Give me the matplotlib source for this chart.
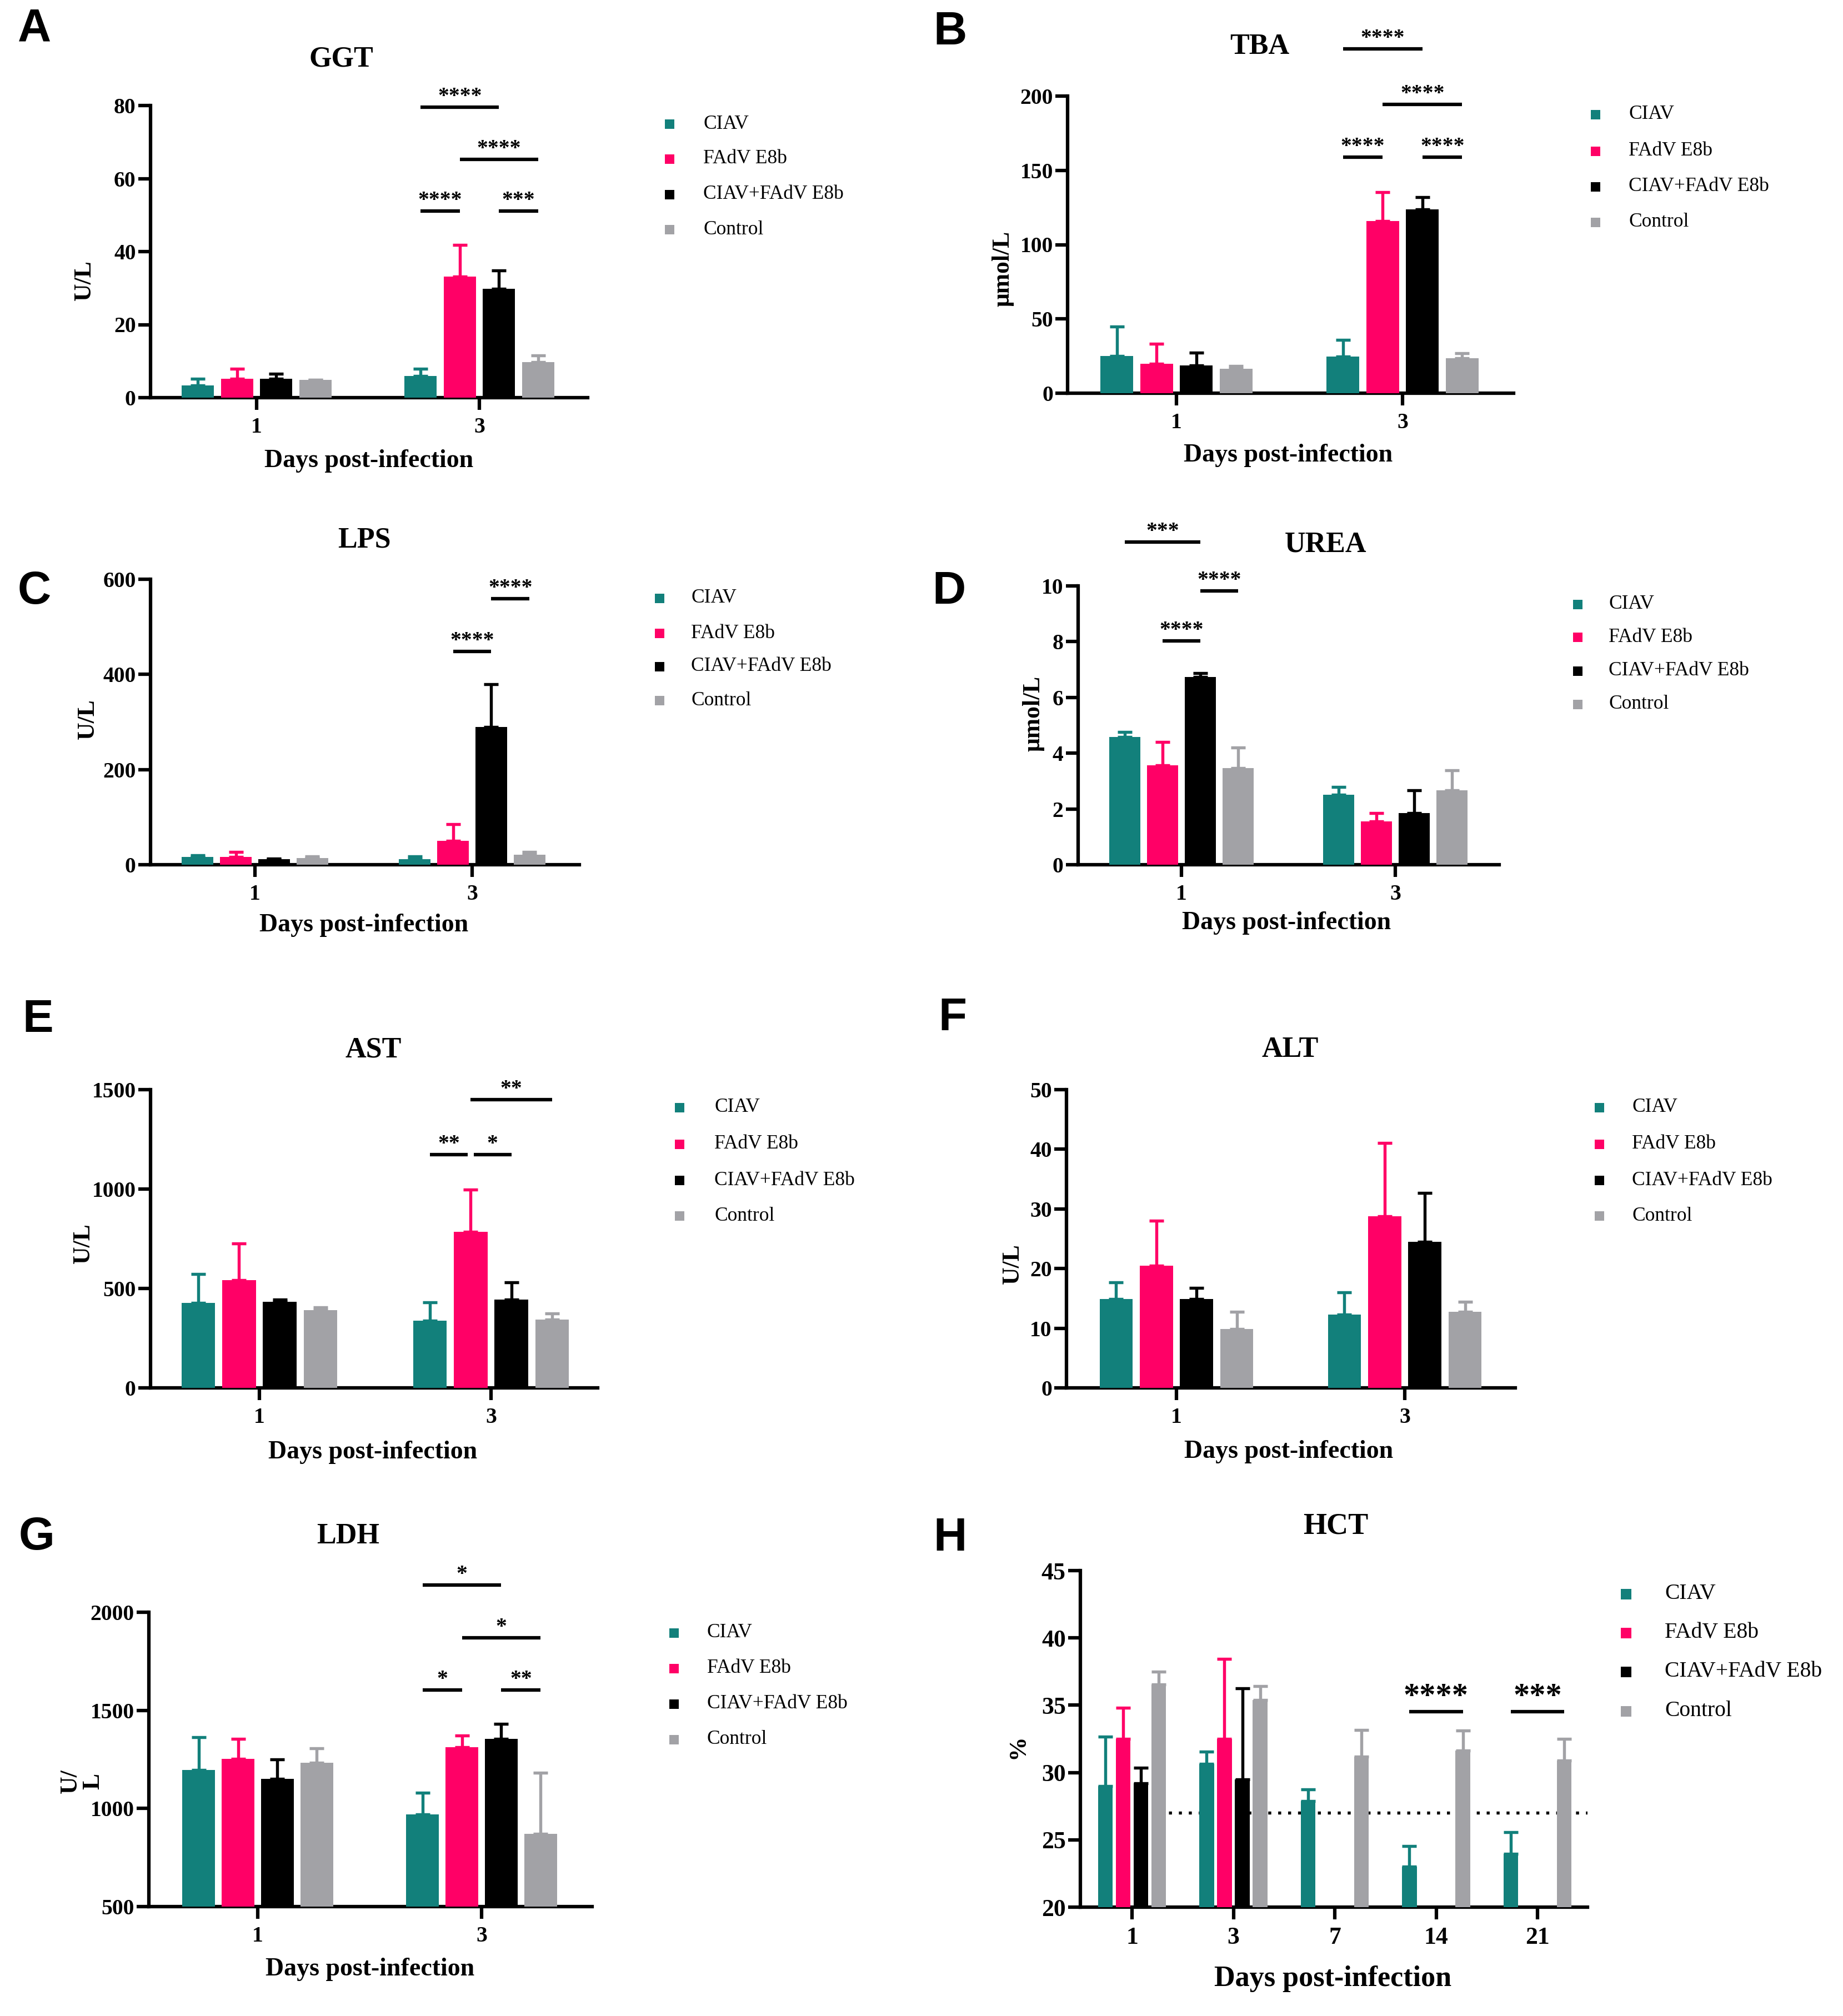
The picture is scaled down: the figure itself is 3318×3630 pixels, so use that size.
import matplotlib
matplotlib.use('Agg')
import matplotlib.pyplot as plt
from matplotlib.patches import Rectangle
import numpy as np

W, H = 3318, 3630
DPI = 300
plt.rcParams['font.family'] = ['Liberation Serif', 'DejaVu Serif']
plt.rcParams['font.weight'] = 'bold'

# ---------------- data ----------------
groups = ['CIAV', 'FAdV E8b', 'CIAV+FAdV E8b', 'Control']
colors = ['#12807b', '#ff0066', '#000000', '#a2a2a6']

days_short = ['1', '3']
days_hct = ['1', '3', '7', '14', '21']

# means[group][day], sd (upper error)
ggt_mean = [[3.4, 6.0], [5.2, 33.1], [5.2, 29.8], [4.8, 9.8]]
ggt_sd = [[1.8, 1.9], [2.7, 8.7], [1.3, 5.1], [0.1, 1.7]]

tba_mean = [[25.0, 24.6], [19.8, 115.9], [18.8, 123.8], [16.3, 23.6]]
tba_sd = [[19.9, 11.3], [13.6, 19.4], [8.5, 8.1], [2.1, 3.5]]

lps_mean = [[16.4, 12.0], [16.4, 50.0], [12.0, 290.0], [14.0, 21.0]]
lps_sd = [[3.0, 5.0], [10.6, 35.0], [1.0, 89.0], [3.0, 6.0]]

urea_mean = [[4.58, 2.51], [3.57, 1.55], [6.74, 1.86], [3.46, 2.66]]
urea_sd = [[0.18, 0.28], [0.83, 0.31], [0.14, 0.80], [0.75, 0.72]]

ast_mean = [[426, 339], [542, 784], [434, 445], [391, 344]]
ast_sd = [[148, 92], [183, 212], [11, 85], [15, 31]]

alt_mean = [[14.9, 12.3], [20.5, 28.8], [14.9, 24.5], [9.9, 12.8]]
alt_sd = [[2.8, 3.7], [7.5, 12.3], [1.9, 8.2], [2.9, 1.6]]

ldh_mean = [[1197, 970], [1253, 1312], [1150, 1355], [1233, 872]]
ldh_sd = [[166, 110], [102, 60], [100, 75], [75, 311]]

nan = np.nan
hct_mean = [[29.0, 30.66, 27.9, 23.0, 23.97],
            [32.5, 32.5, nan, nan, nan],
            [29.2, 29.5, nan, nan, nan],
            [36.55, 35.38, 31.2, 31.64, 30.9]]
hct_sd = [[3.66, 0.9, 0.86, 1.55, 1.58],
          [2.3, 5.95, nan, nan, nan],
          [1.15, 6.74, nan, nan, nan],
          [0.95, 1.05, 1.95, 1.46, 1.6]]
hct_reference = 27.0

# significance: (day index, group i, group j, level, label)
ggt_sig = [(1, 0, 2, 79.6, '****'), (1, 1, 3, 65.3, '****'),
           (1, 0, 1, 51.1, '****'), (1, 2, 3, 51.1, '***')]
tba_sig = [(1, 0, 2, 231.7, '****'), (1, 1, 3, 194.4, '****'),
           (1, 0, 1, 158.7, '****'), (1, 2, 3, 158.7, '****')]
lps_sig = [(1, 1, 2, 448.5, '****'), (1, 2, 3, 559.0, '****')]
urea_sig = [(0, 0, 2, 11.58, '***'), (0, 2, 3, 9.82, '****'), (0, 1, 2, 8.03, '****')]
ast_sig = [(1, 1, 3, 1449, '**'), (1, 0, 1, 1174, '**'), (1, 1, 2, 1174, '*')]
alt_sig = []
ldh_sig = [(1, 0, 2, 2138, '*'), (1, 1, 3, 1870, '*'),
           (1, 0, 1, 1605, '*'), (1, 2, 3, 1605, '**')]
hct_sig = [(3, 0, 3, 34.53, '****'), (4, 0, 3, 34.53, '***')]

# ---------------- layout ----------------
BARW = 0.145
SP = 0.176
GAP = 0.026

fig = plt.figure(figsize=(W / DPI, H / DPI), dpi=DPI)


def fx(x):
    return x / W


def fy(y):
    return 1 - y / H


def panel(means, sds, days, ylim, ystep, sig, title, ylabel, letter,
          rect, day_px, title_xy, ylabel_xy, xlabel_xy, letter_xy,
          leg_mx, leg_tx, leg_rows, big=False, ref=None):
    L, T, R, B = rect
    ax = fig.add_axes([fx(L), fy(B), (R - L) / W, (B - T) / H])
    d0, d1 = day_px
    ax.set_xlim((L - d0) / (d1 - d0), (R - d0) / (d1 - d0))
    ax.set_ylim(*ylim)
    ax.set_yticks(np.arange(ylim[0], ylim[1] + ystep * 0.5, ystep))
    n = len(days)
    xs = np.arange(n)
    ax.set_xticks(xs)
    ax.set_xticklabels(days)
    for s in ['top', 'right']:
        ax.spines[s].set_visible(False)
    for s in ['left', 'bottom']:
        ax.spines[s].set_linewidth(1.5)
    tfs = 10.5 if big else 9.5
    ax.tick_params(axis='y', direction='out', length=5.3, width=1.5,
                   labelsize=tfs, pad=1)
    ax.tick_params(axis='x', direction='out', length=5.3, width=1.5,
                   labelsize=tfs, pad=3)
    ax.patch.set_alpha(0)

    for i in range(4):
        m = np.array(means[i], float)
        e = np.array(sds[i], float)
        pos = xs + (i - 1.5) * SP
        ok = ~np.isnan(m)
        ax.bar(pos[ok], m[ok], width=BARW, color=colors[i], zorder=3)
        ax.errorbar(pos[ok], m[ok], yerr=[np.zeros(ok.sum()), e[ok]], fmt='none',
                    ecolor=colors[i], elinewidth=1.3, capsize=3.2, capthick=1.3,
                    zorder=2.5)

    if ref is not None:
        ax.plot([0.36, ax.get_xlim()[1]], [ref, ref], color='black', lw=1.3,
                ls=(0, (1, 2.3)), zorder=1)

    sfs = 14 if big else 9.5
    segs = []
    for (d, i, j, lev, lab) in sig:
        segs.append((d + (i - 1.5) * SP, d + (j - 1.5) * SP, lev))
    for k, (d, i, j, lev, lab) in enumerate(sig):
        x1, x2, _ = segs[k]
        for m_, (a, b, l2) in enumerate(segs):
            if m_ == k or abs(l2 - lev) > 1e-9:
                continue
            if abs(a - x2) < 1e-9:
                x2 -= GAP / 2
            if abs(b - x1) < 1e-9:
                x1 += GAP / 2
        ax.plot([x1, x2], [lev, lev], color='black', lw=1.5, clip_on=False,
                solid_capstyle='butt', zorder=4)
        ax.text((x1 + x2) / 2, lev, lab, ha='center', va='bottom', fontsize=sfs,
                fontweight='bold', clip_on=False)

    fig.text(fx(title_xy[0]), fy(title_xy[1]), title, ha='center', va='center',
             fontsize=13 if big else 12.5, fontweight='bold')
    fig.text(fx(xlabel_xy[0]), fy(xlabel_xy[1]), 'Days post-infection', ha='center',
             va='center', fontsize=12.5 if big else 11, fontweight='bold')
    fig.text(fx(ylabel_xy[0]), fy(ylabel_xy[1]), ylabel, ha='center', va='center',
             rotation=90, fontsize=10.5, fontweight='bold', linespacing=1.0)
    fig.text(fx(letter_xy[0]), fy(letter_xy[1]), letter, ha='center', va='center',
             fontsize=20, fontweight='bold', family=['Liberation Sans', 'DejaVu Sans'])

    lfs = 9.5 if big else 8.5
    msz = 19 if big else 17
    for k, (g, c) in enumerate(zip(groups, colors)):
        yy = leg_rows[k]
        fig.patches.append(Rectangle((fx(leg_mx - msz / 2), fy(yy + msz / 2)),
                                     msz / W, msz / H, transform=fig.transFigure,
                                     facecolor=c, edgecolor='none'))
        fig.text(fx(leg_tx), fy(yy), g, ha='left', va='center', fontsize=lfs,
                 fontweight='normal')
    return ax


panel(ggt_mean, ggt_sd, days_short, (0, 80), 20, ggt_sig, 'GGT', 'U/L', 'A',
      (271, 190, 1058, 716), (462, 863), (614, 106), (152, 505), (664, 830), (62, 52),
      1205, 1266, [223, 286, 350, 413])

panel(tba_mean, tba_sd, days_short, (0, 200), 50, tba_sig, 'TBA', 'μmol/L', 'B',
      (1922, 173, 2725, 708), (2118, 2525), (2268, 84), (1806, 484), (2319, 820), (1710, 58),
      2872, 2932, [206, 272, 336, 400])

panel(lps_mean, lps_sd, days_short, (0, 600), 200, lps_sig, 'LPS', 'U/L', 'C',
      (271, 1043, 1043, 1557), (459, 850), (656, 973), (158, 1295), (655, 1666), (62, 1065),
      1187, 1244, [1077, 1140, 1200, 1261])

panel(urea_mean, urea_sd, days_short, (0, 10), 2, urea_sig, 'UREA', 'μmol/L', 'D',
      (1941, 1055, 2699, 1557), (2127, 2512), (2386, 980), (1860, 1285), (2316, 1662), (1708, 1065),
      2840, 2896, [1088, 1148, 1208, 1268])

panel(ast_mean, ast_sd, days_short, (0, 1500), 500, ast_sig, 'AST', 'U/L', 'E',
      (271, 1962, 1076, 2499), (467, 884), (672, 1890), (150, 2239), (671, 2615), (68, 1836),
      1223, 1286, [1994, 2060, 2125, 2189])

panel(alt_mean, alt_sd, days_short, (0, 50), 10, alt_sig, 'ALT', 'U/L', 'F',
      (1920, 1962, 2728, 2499), (2118, 2529), (2323, 1890), (1823, 2276), (2320, 2614), (1715, 1833),
      2879, 2938, [1994, 2060, 2125, 2189])

panel(ldh_mean, ldh_sd, days_short, (500, 2000), 500, ldh_sig, 'LDH', 'U/\nL', 'G',
      (268, 2903, 1066, 3433), (464, 867), (627, 2766), (147, 3207), (666, 3546), (66, 2768),
      1213, 1273, [2940, 3004, 3068, 3132])

panel(hct_mean, hct_sd, days_hct, (20, 45), 5, hct_sig, 'HCT', '%', 'H',
      (1945, 2828, 2858, 3434), (2038, 2220.5), (2405, 2748), (1833, 3145), (2400, 3563), (1710, 2770),
      2927, 2997, [2870, 2940, 3010, 3081], big=True, ref=hct_reference)

fig.savefig('out.png', dpi=DPI, facecolor='white')
